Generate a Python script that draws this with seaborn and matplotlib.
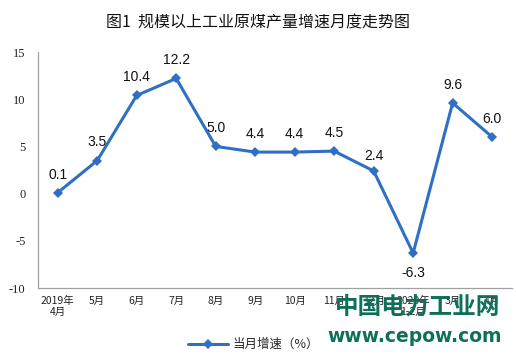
import matplotlib
matplotlib.use("Agg")
import matplotlib.pyplot as plt
import seaborn as sns
import pandas as pd

categories = ["2019年\n4月", "5月", "6月", "7月", "8月", "9月", "10月", "11月", "12月", "2020年\n1-2月", "3月", "4月"]
values = [0.1, 3.5, 10.4, 12.2, 5.0, 4.4, 4.4, 4.5, 2.4, -6.3, 9.6, 6.0]
series_name = "当月增速（%）"
yticks = [-10, -5, 0, 5, 10, 15]

sns.set_style("white")
plt.rcParams['font.family'] = ['Noto Sans CJK SC', 'DejaVu Sans']

df = pd.DataFrame({"x": list(range(len(categories))), "v": values, "s": series_name})

fig = plt.figure(figsize=(5.16, 3.63), dpi=100)
ax = fig.add_axes([0.0736, 0.2066, 0.9184, 0.6501])

color = "#2f6fc4"
sns.lineplot(data=df, x="x", y="v", hue="s", palette=[color], marker="D",
             markersize=5.5, markeredgewidth=0, linewidth=2.2, ax=ax, legend=True)

for i, v in enumerate(values):
    off = 8 if v >= 0 else -9
    va = "bottom" if v >= 0 else "top"
    if i == 8:
        off = 6
    ax.annotate(f"{v:.1f}", (i, v), xytext=(0, off), textcoords="offset points",
                ha="center", va=va, fontsize=10, family="Liberation Sans", color="#111111")

ax.set_xlim(-0.5, len(categories) - 0.5)
ax.set_ylim(-10, 15)
ax.set_yticks(yticks)
ax.set_yticklabels([str(t) for t in yticks], family="Liberation Serif", fontsize=9)
ax.set_xticks([i + 0.5 for i in range(-1, len(categories))], minor=False)
ax.set_xticklabels([])
ax.set_xticks(list(range(len(categories))), minor=True)
ax.set_xticklabels(categories, minor=True, fontsize=7.5, color="#222222", linespacing=1.1)
ax.tick_params(axis="x", which="major", direction="in", length=3, color="#a0a0a0", width=0.8)
ax.tick_params(axis="x", which="minor", length=0, pad=6)
ax.tick_params(axis="y", direction="in", length=3, color="#a0a0a0", width=0.8, pad=9, labelcolor="#222222")
ax.set_xlabel("")
ax.set_ylabel("")
for s in ["top", "right"]:
    ax.spines[s].set_visible(False)
for s in ["left", "bottom"]:
    ax.spines[s].set_color("#a0a0a0")
    ax.spines[s].set_linewidth(0.9)

leg = ax.legend(loc="upper center", bbox_to_anchor=(0.455, -0.165), frameon=False,
                fontsize=9, handlelength=3.2, handletextpad=0.3)

fig.text(0.5, 0.938, "图1  规模以上工业原煤产量增速月度走势图", ha="center", va="center",
         fontsize=11.5, color="#111111")

fig.text(0.81, 0.155, "中国电力工业网", ha="center", va="center", fontsize=17,
         fontweight="bold", color="#0e7058")
fig.text(0.803, 0.072, "www.cepow.com", ha="center", va="center", fontsize=13.5,
         fontweight="bold", color="#0e7058", family="DejaVu Sans")

fig.savefig("out.png", dpi=100)
